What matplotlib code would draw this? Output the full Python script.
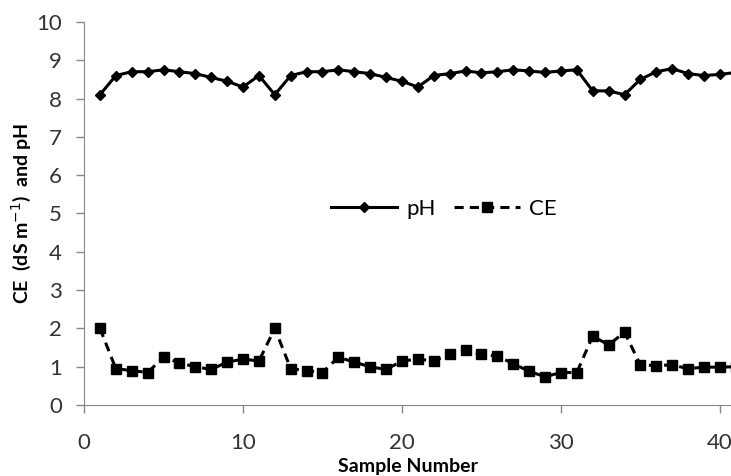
import matplotlib.pyplot as plt

# Values
samples = list(range(1, 42))
ph = [8.1, 8.6, 8.7, 8.7, 8.75, 8.7, 8.65, 8.55, 8.45, 8.3,
      8.6, 8.1, 8.6, 8.7, 8.7, 8.75, 8.7, 8.65, 8.55, 8.45,
      8.3, 8.6, 8.65, 8.72, 8.67, 8.7, 8.75, 8.72, 8.68, 8.72,
      8.75, 8.2, 8.2, 8.1, 8.5, 8.7, 8.78, 8.65, 8.6, 8.63, 8.68]
ce = [2.0, 0.95, 0.9, 0.85, 1.25, 1.1, 1.0, 0.93, 1.12, 1.2,
      1.15, 2.0, 0.95, 0.9, 0.85, 1.25, 1.12, 1.0, 0.93, 1.15,
      1.2, 1.15, 1.33, 1.43, 1.32, 1.28, 1.08, 0.88, 0.74, 0.85,
      0.85, 1.8, 1.57, 1.9, 1.05, 1.03, 1.05, 0.95, 0.99, 0.99, 1.0]
x_ticks = [0, 10, 20, 30, 40]
y_ticks = list(range(0, 11))

plt.rcParams['font.family'] = ['Lato', 'DejaVu Sans']

fig = plt.figure(figsize=(7.31, 4.76), dpi=100)
ax = fig.add_axes([0.115, 0.149, 0.885, 0.805])

ax.plot(samples, ph, color="black", linewidth=2.2, marker="D", markersize=5,
        label="pH")
ax.plot(samples, ce, color="black", linewidth=2.2, linestyle=(0, (3, 2)),
        marker="s", markersize=7.5, label="CE")

ax.set_xlim(0, 40.7)
ax.set_ylim(0, 10)
ax.set_xticks(x_ticks)
ax.set_yticks(y_ticks)

for side in ["top", "right"]:
    ax.spines[side].set_visible(False)
for side in ["left", "bottom"]:
    ax.spines[side].set_color("#888888")

ax.tick_params(axis="both", colors="#888888", labelcolor="#333333",
               labelsize=16, length=6, width=1)
ax.tick_params(axis="x", pad=14)
ax.tick_params(axis="y", pad=10)

ax.set_ylabel("CE  (dS m$^{-1}$)  and pH", fontsize=14, fontweight="bold",
              labelpad=2)
ax.set_xlabel("Sample Number", fontsize=14, fontweight="bold", labelpad=4)

ax.legend(loc="center", bbox_to_anchor=(0.556, 0.512), ncol=2, frameon=False,
          fontsize=16, handlelength=3.0, handletextpad=0.4, columnspacing=0.8)

fig.savefig("out.png", dpi=100)
